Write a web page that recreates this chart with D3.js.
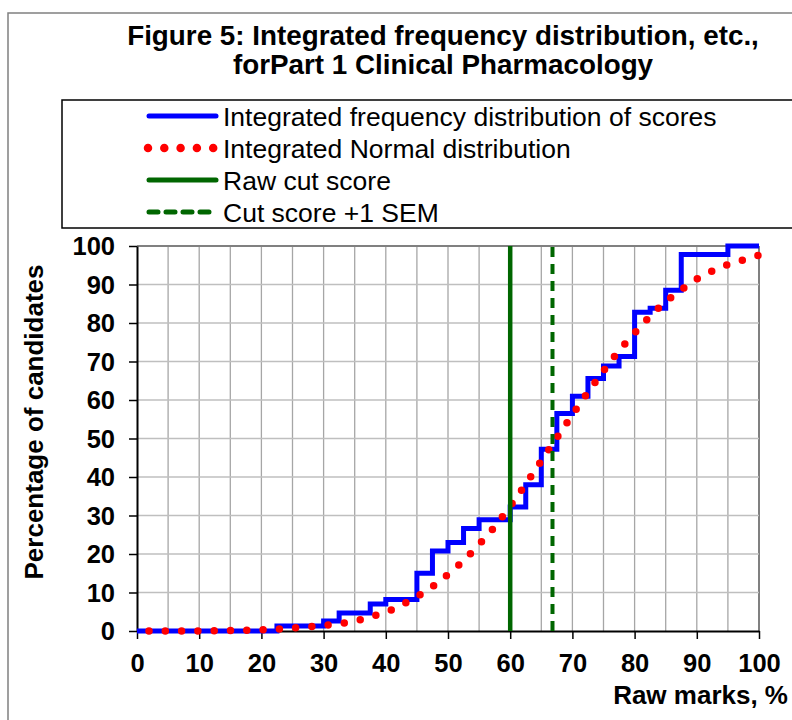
<!DOCTYPE html>
<html>
<head>
<meta charset="utf-8">
<script src="https://cdn.jsdelivr.net/npm/d3@7"></script>
<style>
  body { margin: 0; background: #fff; }
  text { font-family: 'Liberation Sans', Arial, sans-serif; }
</style>
</head>
<body>
<div id="chart"></div>
<script>
// CUMULATIVE SCORE CHART

// DATA
// step positions (raw marks, %) and cumulative % of candidates after each step
let stepMarks = [0, 22.5, 30, 32.5, 37.5, 40, 45, 47.5, 50, 52.5, 55, 60, 62.5, 65, 67.5, 70, 72.5, 75, 77.5, 80, 82.5, 85, 87.5, 95, 100];
let stepPct = [0, 1.3, 2.6, 4.7, 7.0, 8.2, 15.0, 20.8, 23.0, 26.6, 28.9, 32.2, 38.0, 47.2, 56.5, 61.0, 65.6, 68.8, 71.3, 82.8, 83.8, 88.5, 97.8, 100, 100];

// integrated normal curve
let normMarks = [0, 2.5, 5, 7.5, 10, 12.5, 15, 17.5, 20, 22.5, 25, 27.5, 30, 32.5, 35, 37.5, 40, 42.5, 45, 47.5, 50, 52.5, 55, 57.5, 60, 62.5, 65, 67.5, 70, 72.5, 75, 77.5, 80, 82.5, 85, 87.5, 90, 92.5, 95, 97.5, 100];
let normPct = [0, 0, 0, 0, 0, 0.1, 0.1, 0.2, 0.3, 0.5, 0.8, 1.1, 1.4, 1.9, 2.5, 3.7, 4.8, 6.7, 8.9, 11.5, 14.7, 18.2, 22.5, 27.0, 32.4, 38.1, 44.2, 50.2, 56.2, 62.0, 67.6, 72.9, 77.4, 81.8, 85.6, 88.6, 91.4, 93.5, 95.2, 96.4, 97.6];

let rawCut = 60;
let semCut = 66.8;

let xTicks = [0, 10, 20, 30, 40, 50, 60, 70, 80, 90, 100];
let yTicks = [0, 10, 20, 30, 40, 50, 60, 70, 80, 90, 100];
let legendNames = [
  'Integrated frequency distribution of scores',
  'Integrated Normal distribution',
  'Raw cut score',
  'Cut score +1 SEM',
];
let titleLines = ['Figure 5: Integrated frequency distribution, etc.,', 'forPart 1 Clinical Pharmacology'];

// CONST and GLOBALS
let width = 792;
let height = 720;
let plot = { left: 137, right: 759, top: 246, bottom: 631 };

let svg = d3
  .select('#chart')
  .append('svg')
  .attr('width', width)
  .attr('height', height);

let xScale = d3.scaleLinear().domain([0, 100]).range([plot.left, plot.right]);
let yScale = d3.scaleLinear().domain([0, 100]).range([plot.bottom, plot.top]);

// outer chart frame (runs off the page on the right and bottom)
svg
  .append('rect')
  .attr('x', 8)
  .attr('y', 13)
  .attr('width', 900)
  .attr('height', 800)
  .attr('fill', 'none')
  .attr('stroke', '#808080')
  .attr('stroke-width', 1.5);

// title
svg
  .selectAll('.title')
  .data(titleLines)
  .join('text')
  .attr('class', 'title')
  .attr('x', 443)
  .attr('y', (d, i) => 45 + i * 29)
  .attr('text-anchor', 'middle')
  .attr('font-size', 27.8)
  .attr('font-weight', 'bold')
  .text(d => d);

// legend box
svg
  .append('rect')
  .attr('x', 62)
  .attr('y', 100)
  .attr('width', 800)
  .attr('height', 128)
  .attr('fill', '#fff')
  .attr('stroke', '#000')
  .attr('stroke-width', 1.5);

let legend = svg
  .selectAll('.legend-item')
  .data(legendNames)
  .join('g')
  .attr('class', 'legend-item')
  .attr('transform', (d, i) => `translate(0, ${116 + i * 32})`);

legend
  .append('line')
  .attr('x1', (d, i) => (i === 1 ? 148 : 149))
  .attr('x2', (d, i) => (i === 1 ? 214 : 216))
  .attr('stroke', (d, i) => ['#0000ff', '#ff0000', '#006600', '#006600'][i])
  .attr('stroke-width', (d, i) => [5, 8.5, 5, 5][i])
  .attr('stroke-linecap', 'round')
  .attr('stroke-dasharray', (d, i) => ['none', '0 16.3', 'none', '9 8'][i]);

legend
  .append('text')
  .attr('x', 223)
  .attr('y', 9.5)
  .attr('font-size', 26.5)
  .text(d => d);

// GRID LINES
svg
  .append('g')
  .attr('class', 'grid-v')
  .selectAll('line')
  .data(d3.range(5, 101, 5))
  .join('line')
  .attr('x1', d => xScale(d))
  .attr('x2', d => xScale(d))
  .attr('y1', plot.top)
  .attr('y2', plot.bottom)
  .attr('stroke', d => (d === 100 ? '#808080' : '#a6a6a6'))
  .attr('stroke-width', d => (d === 100 ? 2 : 1.3));

svg
  .append('g')
  .attr('class', 'grid-h')
  .selectAll('line')
  .data(yTicks.slice(1))
  .join('line')
  .attr('x1', plot.left)
  .attr('x2', plot.right)
  .attr('y1', d => yScale(d))
  .attr('y2', d => yScale(d))
  .attr('stroke', d => (d === 100 ? '#808080' : '#bfbfbf'))
  .attr('stroke-width', d => (d === 100 ? 2 : 1.3));

// AXES
let xAxis = d3.axisBottom(xScale).tickValues(xTicks).tickSize(8).tickSizeOuter(0);
let yAxis = d3.axisLeft(yScale).tickValues(yTicks).tickSize(8).tickSizeOuter(0);

svg
  .append('g')
  .attr('class', 'axis x-axis')
  .attr('transform', `translate(0, ${plot.bottom})`)
  .call(xAxis)
  .call(g => g.select('.domain').attr('stroke', '#000').attr('stroke-width', 2))
  .call(g => g.selectAll('.tick line').attr('stroke', '#000').attr('stroke-width', 1.5))
  .call(g =>
    g
      .selectAll('.tick text')
      .attr('y', 41)
      .attr('dy', 0)
      .attr('fill', '#000')
      .attr('font-size', 25.5)
      .attr('font-weight', 'bold')
      .attr('font-family', "'Liberation Sans', Arial, sans-serif")
  );

svg
  .append('g')
  .attr('class', 'axis y-axis')
  .attr('transform', `translate(${plot.left}, 0)`)
  .call(yAxis)
  .call(g => g.select('.domain').attr('stroke', '#000').attr('stroke-width', 2))
  .call(g => g.selectAll('.tick line').attr('stroke', '#000').attr('stroke-width', 1.5))
  .call(g =>
    g
      .selectAll('.tick text')
      .attr('x', -22)
      .attr('dy', '0.35em')
      .attr('fill', '#000')
      .attr('font-size', 25.5)
      .attr('font-weight', 'bold')
      .attr('font-family', "'Liberation Sans', Arial, sans-serif")
  );

// axis titles
svg
  .append('text')
  .attr('x', 788)
  .attr('y', 704)
  .attr('text-anchor', 'end')
  .attr('font-size', 26)
  .attr('font-weight', 'bold')
  .text('Raw marks, %');

svg
  .append('text')
  .attr('transform', 'translate(43, 422) rotate(-90)')
  .attr('text-anchor', 'middle')
  .attr('font-size', 26)
  .attr('font-weight', 'bold')
  .text('Percentage of candidates');

// SERIES
let stepLine = d3
  .line()
  .x(d => xScale(d[0]))
  .y(d => yScale(d[1]))
  .curve(d3.curveStepAfter);

svg
  .append('path')
  .datum(stepMarks.map((m, i) => [m, stepPct[i]]))
  .attr('d', stepLine)
  .attr('fill', 'none')
  .attr('stroke', '#0000ff')
  .attr('stroke-width', 5);

let normLine = d3
  .line()
  .x(d => xScale(d[0]))
  .y(d => yScale(d[1]));

svg
  .append('path')
  .datum(normMarks.map((m, i) => [m, normPct[i]]))
  .attr('d', normLine)
  .attr('fill', 'none')
  .attr('stroke', '#ff0000')
  .attr('stroke-width', 7.5)
  .attr('stroke-linecap', 'round')
  .attr('stroke-dasharray', '0 16.3')
  .attr('stroke-dashoffset', 4.3);

// cut score lines
svg
  .append('line')
  .attr('x1', xScale(rawCut))
  .attr('x2', xScale(rawCut))
  .attr('y1', yScale(0))
  .attr('y2', yScale(100))
  .attr('stroke', '#006600')
  .attr('stroke-width', 4.5);

svg
  .append('line')
  .attr('x1', xScale(semCut))
  .attr('x2', xScale(semCut))
  .attr('y1', yScale(0))
  .attr('y2', yScale(100))
  .attr('stroke', '#006600')
  .attr('stroke-width', 4)
  .attr('stroke-dasharray', '10 7');
</script>
</body>
</html>
